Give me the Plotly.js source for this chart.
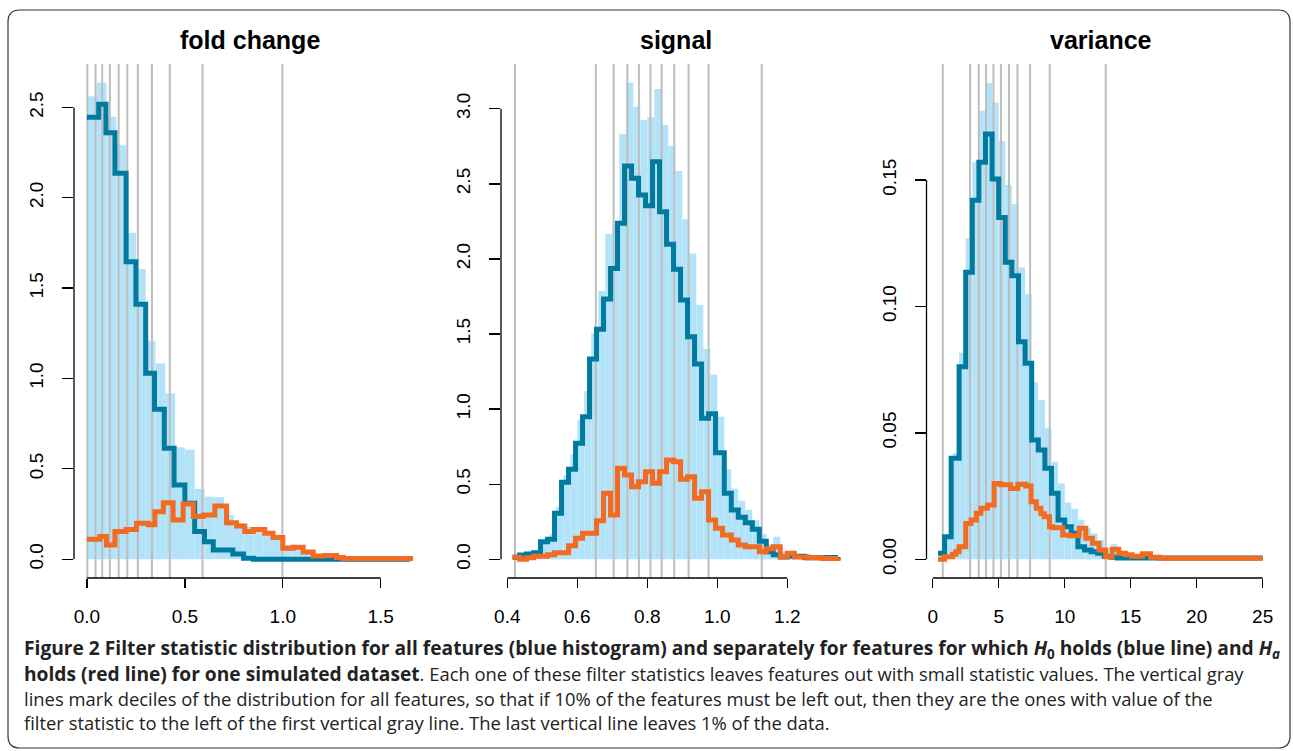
<!DOCTYPE html>
<html><head><meta charset="utf-8">
<script src="https://cdn.plot.ly/plotly-3.0.1.min.js"></script>
<style>html,body{margin:0;padding:0;background:#fff;}#chart{width:1293px;height:751px;}</style>
</head><body><div id="chart"></div>
<script>
// ---------- DATA ----------
const panelTitles = ["fold change", "signal", "variance"];

// Panel 1: fold change
const fcBinStarts = [0,0.05,0.1,0.15,0.2,0.25,0.3,0.35,0.4,0.45,0.5,0.55,0.6,0.65,0.7,0.75,0.8,0.85,0.9,0.95,1.0,1.05,1.1,1.15,1.2,1.25,1.3,1.35,1.4,1.45,1.5,1.55,1.6];
const fcHist = [2.562,2.636,2.448,2.29,1.806,1.606,1.209,1.084,0.918,0.619,0.605,0.389,0.346,0.343,0.245,0.2,0.18,0.16,0.155,0.13,0.08,0.07,0.05,0.03,0.02,0.015,0.01,0.008,0.006,0.005,0.004,0.003,0.003];
const fcH0x = [0,0.06,0.097,0.143,0.2,0.25,0.3,0.345,0.395,0.445,0.5,0.55,0.6,0.645,0.745,0.8,0.85,1.65];
const fcH0y = [2.445,2.517,2.36,2.135,1.646,1.41,1.029,0.83,0.614,0.411,0.31,0.153,0.097,0.051,0.029,0.005,0,0];
const fcHAx = [0,0.066,0.1,0.143,0.2,0.253,0.313,0.347,0.39,0.44,0.491,0.543,0.594,0.653,0.713,0.764,0.806,0.849,0.908,0.95,1.0,1.053,1.104,1.155,1.214,1.274,1.308,1.665];
const fcHAy = [0.111,0.125,0.079,0.153,0.165,0.199,0.19,0.263,0.313,0.217,0.306,0.236,0.245,0.295,0.202,0.184,0.153,0.165,0.143,0.12,0.061,0.066,0.04,0.018,0.02,0.01,0.004,0.004];
const fcDeciles = [0.002,0.044,0.078,0.117,0.162,0.206,0.26,0.332,0.423,0.59,0.998];
const fcXTicks = [0,0.5,1.0,1.5];
const fcXLabels = ["0.0","0.5","1.0","1.5"];
const fcYTicks = [0,0.5,1.0,1.5,2.0,2.5];
const fcYLabels = ["0.0","0.5","1.0","1.5","2.0","2.5"];

// Panel 2: signal
const sgBinStarts = [0.42,0.44,0.46,0.48,0.5,0.52,0.54,0.56,0.58,0.6,0.62,0.64,0.66,0.68,0.7,0.72,0.74,0.76,0.78,0.8,0.82,0.84,0.86,0.88,0.9,0.92,0.94,0.96,0.98,1.0,1.02,1.04,1.06,1.08,1.1,1.12,1.14,1.16,1.18,1.2,1.22,1.24,1.26,1.28,1.3,1.32];
const sgHist = [0.02,0.03,0.04,0.06,0.13,0.17,0.35,0.56,0.7,0.93,1.12,1.505,1.786,2.166,2.226,2.832,3.173,3.013,2.925,2.943,3.131,2.891,2.752,2.585,2.264,2.037,1.693,1.4,1.23,0.95,0.6,0.47,0.39,0.33,0.26,0.17,0.1,0.15,0.05,0.05,0.03,0.03,0.02,0.02,0.01,0.01];
const sgH0x = [0.415,0.435,0.455,0.475,0.495,0.515,0.535,0.555,0.575,0.595,0.615,0.635,0.655,0.675,0.695,0.715,0.735,0.755,0.775,0.795,0.815,0.835,0.855,0.875,0.895,0.915,0.935,0.955,0.975,0.995,1.02,1.04,1.06,1.08,1.1,1.12,1.14,1.16,1.18,1.2,1.25,1.3,1.345];
const sgH0y = [0.013,0.029,0.035,0.044,0.117,0.133,0.306,0.513,0.6,0.772,0.949,1.333,1.531,1.733,1.937,2.237,2.619,2.537,2.425,2.354,2.647,2.314,2.097,1.931,1.726,1.482,1.3,0.94,0.97,0.71,0.44,0.328,0.28,0.244,0.2,0.12,0.05,0.03,0.015,0.02,0.01,0.012,0.015];
const sgHAx = [0.415,0.435,0.455,0.475,0.495,0.515,0.535,0.555,0.575,0.595,0.615,0.635,0.655,0.675,0.695,0.715,0.735,0.755,0.775,0.795,0.815,0.835,0.855,0.875,0.895,0.915,0.935,0.955,0.975,0.995,1.015,1.04,1.06,1.08,1.1,1.12,1.14,1.16,1.18,1.2,1.22,1.26,1.3,1.345];
const sgHAy = [0.013,0.0,0.01,0.02,0.02,0.03,0.044,0.044,0.09,0.14,0.173,0.173,0.257,0.44,0.295,0.606,0.561,0.483,0.517,0.583,0.506,0.583,0.661,0.65,0.533,0.55,0.406,0.45,0.262,0.206,0.162,0.128,0.095,0.084,0.084,0.05,0.07,0.084,0.017,0.04,0.015,0.01,0.005,0.01];
const sgDeciles = [0.422,0.653,0.704,0.743,0.776,0.809,0.841,0.877,0.918,0.975,1.127];
const sgXTicks = [0.4,0.6,0.8,1.0,1.2];
const sgXLabels = ["0.4","0.6","0.8","1.0","1.2"];
const sgYTicks = [0,0.5,1.0,1.5,2.0,2.5,3.0];
const sgYLabels = ["0.0","0.5","1.0","1.5","2.0","2.5","3.0"];

// Panel 3: variance
const vaBinStarts = [0.5,1,1.5,2,2.5,3,3.5,4,4.5,5,5.5,6,6.5,7,7.5,8,8.5,9,9.5,10,10.5,11,11.5,12,12.5,13,13.5,14,14.5,15,15.5,16,16.5,17,17.5,18,18.5,19,19.5,20,20.5,21,21.5,22,22.5,23,23.5,24,24.5];
const vaHist = [0.003,0.01,0.042,0.0817,0.127,0.157,0.1774,0.1884,0.1807,0.1653,0.148,0.1405,0.1155,0.105,0.07,0.063,0.052,0.0386,0.03,0.0224,0.02,0.0155,0.0123,0.0103,0.0076,0.0043,0.006,0.003,0.0025,0.002,0.0015,0.0018,0.001,0.001,0.0008,0.0007,0.0006,0.0005,0.0004,0.0004,0.0003,0.0003,0.0003,0.0002,0.0002,0.0002,0.0002,0.0001,0.0001];
const vaH0x = [0.4,0.9,1.4,2.0,2.5,3.0,3.5,4.0,4.5,5.0,5.5,6.0,6.5,7.0,7.5,8.0,8.5,9.0,9.5,10.0,10.5,11.0,11.5,12.0,12.5,13.0,13.5,14.0,25.0];
const vaH0y = [0.0024,0.0089,0.04,0.0762,0.1135,0.142,0.157,0.1682,0.1504,0.1352,0.1175,0.1121,0.086,0.0775,0.0472,0.0432,0.036,0.0261,0.0155,0.0129,0.0103,0.005,0.0037,0.003,0.0024,0.0012,0.0008,0.0005,0.0005];
const vaHAx = [0.4,0.9,1.5,1.75,2.0,2.5,2.9,3.3,3.65,4.15,4.65,5.15,5.9,6.45,7.05,7.45,7.85,8.2,8.45,8.85,9.1,9.85,10.35,11.1,11.6,12.1,12.6,13.1,13.6,14.1,14.6,15.1,15.9,16.5,17.2,25.0];
const vaHAy = [0.0,0.001,0.002,0.003,0.005,0.0142,0.0155,0.0182,0.0202,0.0215,0.030,0.0295,0.028,0.0297,0.029,0.0228,0.0202,0.018,0.0168,0.0129,0.0125,0.0096,0.0093,0.0123,0.0083,0.0063,0.0037,0.001,0.004,0.0024,0.0018,0.0012,0.0022,0.0008,0.0004,0.0004];
const vaDeciles = [0.76,2.83,3.49,4.04,4.6,5.17,5.78,6.42,7.38,8.87,13.11];
const vaXTicks = [0,5,10,15,20,25];
const vaXLabels = ["0","5","10","15","20","25"];
const vaYTicks = [0,0.05,0.10,0.15];
const vaYLabels = ["0.00","0.05","0.10","0.15"];

const BOLD = s => '<span style="font-size:19.2px"><b>' + s + '</b></span>';
const captionLines = [
  BOLD("Figure 2 Filter statistic distribution for all features (blue histogram) and separately for features for which <i>H</i><sub>0</sub> holds (blue line) and <i>H<sub>a</sub></i>"),
  BOLD("holds (red line) for one simulated dataset") + ". Each one of these filter statistics leaves features out with small statistic values. The vertical gray",
  "lines mark deciles of the distribution for all features, so that if 10% of the features must be left out, then they are the ones with value of the",
  "filter statistic to the left of the first vertical gray line. The last vertical line leaves 1% of the data."
];

// ---------- LAYOUT HELPERS ----------
const W = 1293, H = 751;
const fx = px => px / W;
const fy = py => 1 - py / H;

const HIST_COLOR = '#b3e3f8';
const H0_COLOR = '#007a9f';
const HA_COLOR = '#f26b23';
const GRID_COLOR = '#bebebe';
const FONT = 'Liberation Sans, Arial, sans-serif';

const panels = [
  {bins: fcBinStarts, hist: fcHist, bw: 0.05, h0x: fcH0x, h0y: fcH0y, hax: fcHAx, hay: fcHAy, dec: fcDeciles,
   xt: fcXTicks, xl: fcXLabels, yt: fcYTicks, yl: fcYLabels, left: 74, right: 425, xr: [-0.066, 1.726], yr: [-0.104, 2.74]},
  {bins: sgBinStarts, hist: sgHist, bw: 0.02, h0x: sgH0x, h0y: sgH0y, hax: sgHAx, hay: sgHAy, dec: sgDeciles,
   xt: sgXTicks, xl: sgXLabels, yt: sgYTicks, yl: sgYLabels, left: 501, right: 851, xr: [0.382, 1.382], yr: [-0.1245, 3.298]},
  {bins: vaBinStarts, hist: vaHist, bw: 0.5, h0x: vaH0x, h0y: vaH0y, hax: vaHAx, hay: vaHAy, dec: vaDeciles,
   xt: vaXTicks, xl: vaXLabels, yt: vaYTicks, yl: vaYLabels, left: 926.5, right: 1275.6, xr: [-0.47, 25.98], yr: [-0.0074, 0.1959]}
];
const TOP = 64, BOTTOM = 578;

const traces = [];
const shapes = [];
const annotations = [];
const layout = {
  width: W, height: H,
  margin: {l: 0, r: 0, t: 0, b: 0},
  paper_bgcolor: '#ffffff', plot_bgcolor: 'rgba(0,0,0,0)',
  showlegend: false,
  font: {family: FONT, color: '#000'},
  shapes: shapes, annotations: annotations
};

panels.forEach((p, i) => {
  const n = i === 0 ? '' : String(i + 1);
  const xa = 'x' + n, ya = 'y' + n;
  traces.push({type: 'bar', x: p.bins, y: p.hist, width: p.bw, offset: 0,
    marker: {color: HIST_COLOR, line: {width: 0}}, xaxis: xa, yaxis: ya, hoverinfo: 'skip'});
  const gx = [], gy = [];
  p.dec.forEach(q => { gx.push(q, q, null); gy.push(p.yr[0], p.yr[1], null); });
  traces.push({type: 'scatter', mode: 'lines', x: gx, y: gy, line: {color: GRID_COLOR, width: 2},
    xaxis: xa, yaxis: ya, hoverinfo: 'skip'});
  traces.push({type: 'scatter', mode: 'lines', x: p.h0x, y: p.h0y, line: {color: H0_COLOR, width: 5, shape: 'hv'},
    xaxis: xa, yaxis: ya, hoverinfo: 'skip'});
  traces.push({type: 'scatter', mode: 'lines', x: p.hax, y: p.hay, line: {color: HA_COLOR, width: 5, shape: 'hv'},
    xaxis: xa, yaxis: ya, hoverinfo: 'skip'});

  layout['xaxis' + n] = {
    domain: [fx(p.left), fx(p.right)], range: p.xr, anchor: ya,
    showgrid: false, zeroline: false, showline: false,
    tickmode: 'array', tickvals: p.xt, ticktext: p.xl,
    ticks: 'outside', ticklen: 9, tickwidth: 1.3, tickcolor: '#000',
    ticklabelstandoff: 12,
    tickfont: {family: FONT, size: 19, color: '#000'}
  };
  layout['yaxis' + n] = {
    domain: [fy(BOTTOM), fy(TOP)], range: p.yr, anchor: xa,
    showgrid: false, zeroline: false, showline: false,
    tickmode: 'array', tickvals: p.yt, ticktext: p.yl,
    ticks: 'outside', ticklen: 11, tickwidth: 1.3, tickcolor: '#000',
    tickangle: -90, ticklabelstandoff: 11,
    tickfont: {family: FONT, size: 19, color: '#000'}
  };
  shapes.push({type: 'line', xref: xa, yref: 'paper', x0: p.xt[0], x1: p.xt[p.xt.length - 1],
    y0: fy(BOTTOM), y1: fy(BOTTOM), line: {color: '#000', width: 1.3}});
  shapes.push({type: 'line', xref: 'paper', yref: ya, x0: fx(p.left), x1: fx(p.left),
    y0: p.yt[0], y1: p.yt[p.yt.length - 1], line: {color: '#000', width: 1.3}});
  annotations.push({text: '<b>' + panelTitles[i] + '</b>', xref: 'paper', yref: 'paper',
    x: fx((p.left + p.right) / 2), y: fy(40), xanchor: 'center', yanchor: 'middle',
    showarrow: false, font: {family: FONT, size: 25, color: '#000'}});
});

const capY = [648, 673, 698, 722];
captionLines.forEach((t, k) => {
  annotations.push({text: t, xref: 'paper', yref: 'paper', x: fx(22), y: fy(capY[k]),
    xanchor: 'left', yanchor: 'middle', align: 'left', showarrow: false,
    font: {family: 'Open Sans, sans-serif', size: 18.4, color: '#222'}});
});

(function () {
  const L = 8, T = 10, R = 1290, B = 748, r = 12;
  const P = (x, y) => fx(x) + ',' + fy(y);
  const path = 'M' + P(L + r, T) + ' L' + P(R - r, T) + ' Q' + P(R, T) + ' ' + P(R, T + r) +
    ' L' + P(R, B - r) + ' Q' + P(R, B) + ' ' + P(R - r, B) +
    ' L' + P(L + r, B) + ' Q' + P(L, B) + ' ' + P(L, B - r) +
    ' L' + P(L, T + r) + ' Q' + P(L, T) + ' ' + P(L + r, T) + ' Z';
  shapes.push({type: 'path', xref: 'paper', yref: 'paper', path: path, line: {color: '#333', width: 1.2}});
})();

Plotly.newPlot('chart', traces, layout, {staticPlot: true, displayModeBar: false});
</script>
</body></html>
